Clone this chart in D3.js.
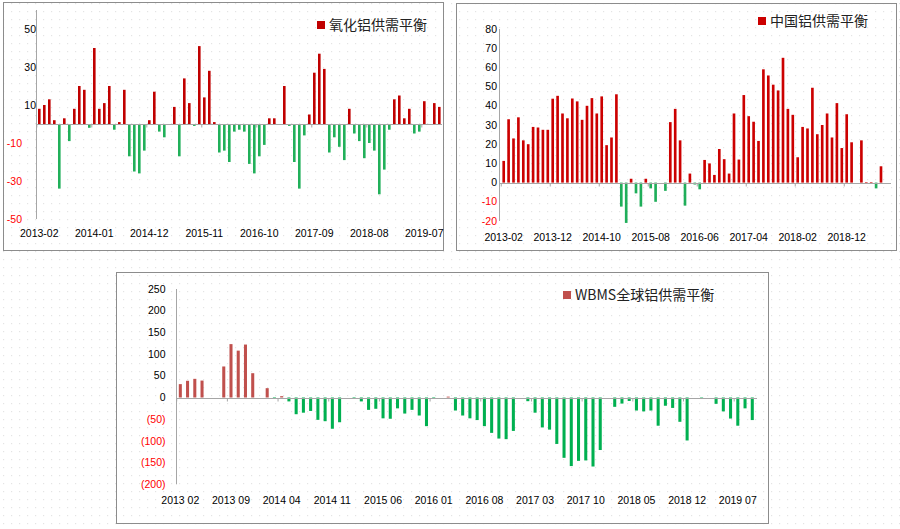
<!DOCTYPE html>
<html lang="zh">
<head>
    <meta charset="UTF-8">
    <title>铝供需平衡</title>
    <script src="https://d3js.org/d3.v7.min.js"></script>
    <style>
        body { margin: 0; background: #fff; }
        svg { display: block; }
        .tick-label { font-family: "Liberation Sans", Arial, sans-serif; font-size: 10.5px; }
        .legend { font-family: "Noto Sans CJK SC", sans-serif; font-size: 14px; }
    </style>
</head>
<body>
    <svg id="chart" width="900" height="529"></svg>
    <script>
        // 氧化铝供需平衡 (2013-02 .. 2019-10)
        const aluminaValues = [8,10,13,2,-34,3,-9,8,20,18, -2,40,8,11,20,-3,1,18,-17,-25,
            -26,-14,2,17,-4,-7,0,9,-17,24, 11,-1,41,14,28,1,-15,-14,-20,-4,
            -3,-4,-21,-26,-17,-11,3,3,0,20, -1,-20,-34,-6,5,27,37,29,-15,-7,
            -12,-19,8,-5,-9,-18,-10,-14,-37,-24, -3,13,15,3,8,-5,-4,12,0,11,9];
        const aluminaTicks = ["2013-02","2014-01","2014-12","2015-11","2016-10","2017-09","2018-08","2019-07"];
        const aluminaYTicks = [-50,-30,-10,10,30,50];

        // 中国铝供需平衡 (2013-02 .. 2019-07)
        const chinaValues = [11.3,33,23,34,22,20,29,28.7,27.5,27.5, 43.7,45.2,36,33.5,43.8,42.3,32.7,40,44,36,
            44.9,19.5,23.5,46,-12.5,-21,2,-5.6,-12.5,2, -3,-10,0,-4.3,31.5,38.4,22,-12,4.7,-1,
            -3.5,11.8,10,4,17.5,12.2,4.7,36,12,45.6, 34.6,31.7,21.7,59,55.8,51,48,65,38.4,35.3,
            13.2,29,28.2,49.4,25.2,30,36,23.5,41.4,18, 35.6,21,0,22,0.3,0.3,-3,8.5];
        const chinaTicks = ["2013-02","2013-12","2014-10","2015-08","2016-06","2017-04","2018-02","2018-12"];
        const chinaYTicks = [-20,-10,0,10,20,30,40,50,60,70,80];

        // WBMS全球铝供需平衡 (2013 02 .. 2019 09)
        const wbmsValues = [30.8,38.5,43,39,0,0,71.5,123,108,122, 56,0,21.5,-2,3,-9,-38.5,-35,-31,-51.5,
            -54.6,-72,-57,0,-3,-9,-28.5,-26,-48,-49, -25,-37,-28.5,-41.5,-66,-2,0,2,-30,-41.5,
            -48,-52,-66,-81.5,-94.6,-96,-77,0,-8.5,-35, -69,-74,-107,-139,-158,-146,-145,-159,-121,0,
            -21.5,-14,-8,-30,-32,-30,-65,-19,-24,-56, -99,0,-1,0,-14.6,-32,-48.5,-65,-25,-52];
        const wbmsTicks = ["2013 02","2013 09","2014 04","2014 11","2015 06","2016 01","2016 08","2017 03","2017 10","2018 05","2018 12","2019 07"];
        const wbmsYTicks = [-200,-150,-100,-50,0,50,100,150,200,250];

        const svg = d3.select("#chart");

        // faint dotted paper background
        const defs = svg.append("defs");
        const pat = defs.append("pattern")
            .attr("id", "dots").attr("width", 8).attr("height", 8)
            .attr("patternUnits", "userSpaceOnUse");
        pat.append("rect").attr("x", 3).attr("y", 3).attr("width", 1.2).attr("height", 1.2).attr("fill", "#e4e4e4");
        svg.append("rect").attr("width", 900).attr("height", 529).attr("fill", "url(#dots)");

        function monthLabels(start, count, sep) {
            const fmt = d3.timeFormat("%Y" + sep + "%m");
            return d3.range(count).map(i => fmt(d3.timeMonth.offset(start, i)));
        }

        function drawPanel(cfg) {
            const g = svg.append("g");
            const b = cfg.box;
            g.append("rect")
                .attr("x", b[0] + 0.5).attr("y", b[1] + 0.5)
                .attr("width", b[2] - b[0]).attr("height", b[3] - b[1])
                .attr("fill", "none").attr("stroke", "#8c8c8c");

            const cats = monthLabels(cfg.start, cfg.values.length, cfg.sep);
            const x = d3.scaleBand()
                .domain(cats)
                .range([cfg.xStart, cfg.xStart + cfg.step * cats.length])
                .paddingInner(cfg.pad).paddingOuter(cfg.pad / 2);
            const y = d3.scaleLinear().domain(cfg.yDomain).range(cfg.yRange);
            const y0 = Math.round(y(0)) + 0.5;

            // y axis line
            g.append("line")
                .attr("x1", cfg.axisX).attr("x2", cfg.axisX)
                .attr("y1", y(cfg.yDomain[1])).attr("y2", y(cfg.yDomain[0]))
                .attr("stroke", "#a6a6a6");

            // y labels
            g.selectAll(".ylab")
                .data(cfg.yTicks)
                .enter().append("text")
                .attr("class", "tick-label")
                .attr("x", d => d < 0 ? cfg.negLabelX : cfg.posLabelX)
                .attr("y", d => y(d))
                .attr("dy", "0.35em")
                .attr("text-anchor", "end")
                .attr("fill", d => d < 0 ? "#ff0000" : "#000")
                .text(cfg.yFormat);

            // bars
            g.selectAll(".bar")
                .data(cfg.values.map((v, i) => ({ m: cats[i], v: v })))
                .enter().append("rect")
                .attr("x", d => x(d.m))
                .attr("width", x.bandwidth())
                .attr("y", d => Math.min(y(d.v), y(0)))
                .attr("height", d => Math.abs(y(d.v) - y(0)))
                .attr("fill", d => d.v >= 0 ? cfg.pos : cfg.neg);

            // category axis on zero
            g.append("line")
                .attr("x1", cfg.axisX).attr("x2", cfg.axisEnd)
                .attr("y1", y0).attr("y2", y0)
                .attr("stroke", "#a6a6a6");
            g.selectAll(".xtick")
                .data(cfg.xTicks)
                .enter().append("line")
                .attr("x1", d => x(d) + x.bandwidth() / 2 - x.step() / 2)
                .attr("x2", d => x(d) + x.bandwidth() / 2 - x.step() / 2)
                .attr("y1", y0).attr("y2", y0 + 3)
                .attr("stroke", "#a6a6a6");

            g.selectAll(".xlab")
                .data(cfg.xTicks)
                .enter().append("text")
                .attr("class", "tick-label")
                .attr("x", d => x(d) + x.bandwidth() / 2)
                .attr("y", cfg.xLabelY)
                .attr("dy", "0.35em")
                .attr("text-anchor", "middle")
                .attr("fill", "#000")
                .text(d => d);

            // legend
            g.append("rect")
                .attr("x", cfg.legend[0]).attr("y", cfg.legend[1] - 4)
                .attr("width", 8).attr("height", 8)
                .attr("fill", cfg.pos);
            g.append("text")
                .attr("class", "legend")
                .attr("x", cfg.legend[0] + 12).attr("y", cfg.legend[1])
                .attr("dy", "0.35em")
                .attr("fill", "#222")
                .text(cfg.title);
        }

        drawPanel({
            box: [3, 2, 443, 250],
            values: aluminaValues, start: new Date(2013, 1, 1), sep: "-",
            xStart: 36.8, step: 5, pad: 0.48,
            axisX: 36.5, axisEnd: 442,
            yDomain: [-50, 60], yRange: [219, 10],
            yTicks: aluminaYTicks, yFormat: d => d,
            posLabelX: 36, negLabelX: 22,
            xTicks: aluminaTicks, xLabelY: 233,
            pos: "#c00000", neg: "#21b05a",
            legend: [317, 25], title: "氧化铝供需平衡"
        });

        drawPanel({
            box: [456, 3, 896, 250],
            values: chinaValues, start: new Date(2013, 1, 1), sep: "-",
            xStart: 501.25, step: 4.9, pad: 0.46,
            axisX: 499.5, axisEnd: 891,
            yDomain: [-20, 80], yRange: [221, 29],
            yTicks: chinaYTicks, yFormat: d => d,
            posLabelX: 497, negLabelX: 497,
            xTicks: chinaTicks, xLabelY: 237,
            pos: "#cc0000", neg: "#1fae5a",
            legend: [758, 21], title: "中国铝供需平衡"
        });

        drawPanel({
            box: [116, 272, 768, 523],
            values: wbmsValues, start: new Date(2013, 1, 1), sep: " ",
            xStart: 176.7, step: 7.24, pad: 0.58,
            axisX: 176.5, axisEnd: 757,
            yDomain: [-200, 250], yRange: [484.3, 289],
            yTicks: wbmsYTicks, yFormat: d => d < 0 ? "(" + (-d) + ")" : d,
            posLabelX: 165.5, negLabelX: 165.5,
            xTicks: wbmsTicks, xLabelY: 500,
            pos: "#c0504d", neg: "#00b050",
            legend: [563, 295], title: "WBMS全球铝供需平衡"
        });
    </script>
</body>
</html>
